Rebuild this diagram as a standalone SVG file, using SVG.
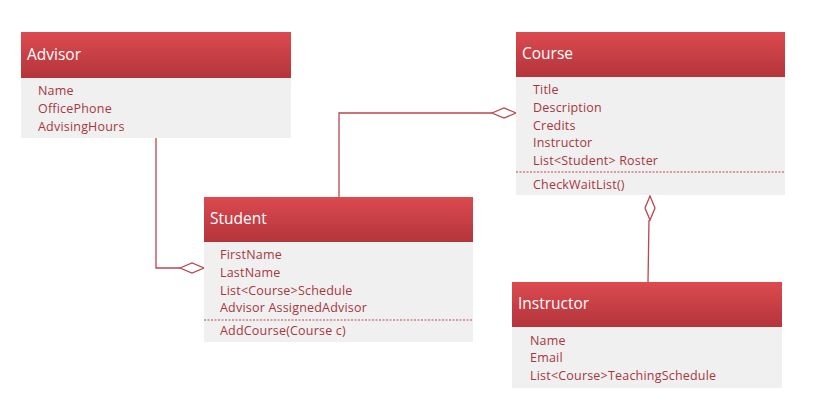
<svg xmlns="http://www.w3.org/2000/svg" width="825" height="402" viewBox="0 0 825 402">
<defs>
<linearGradient id="hdr" x1="0" y1="0" x2="0" y2="1">
<stop offset="0" stop-color="#dc4a4f"/>
<stop offset="1" stop-color="#b3353b"/>
</linearGradient>
<style>
.hd{fill:url(#hdr);}
.bd{fill:#f0f0f0;}
.ht{font-family:"Open Sans","Liberation Sans",sans-serif;font-size:15.5px;fill:#ffffff;}
.at{font-family:"Open Sans","Liberation Sans",sans-serif;font-size:12.5px;letter-spacing:0.2px;fill:#a8373d;}
.sep{stroke:#b9474d;stroke-width:1;stroke-dasharray:2,1.5;}
.ln{fill:none;stroke:#b9474d;stroke-width:1.3;}
.dm{fill:#ffffff;stroke:#b9474d;stroke-width:1.3;}
</style>
</defs>
<rect width="825" height="402" fill="#ffffff"/>
<g id="connectors">
<polyline class="ln" points="156,138 156,268 180,268"/>
<polygon class="dm" points="180,268 192,263 204,268 192,273"/>
<polyline class="ln" points="339,197 339,113 492,113"/>
<polygon class="dm" points="492,113 504,108 516,113 504,118"/>
<line class="ln" x1="649" y1="220" x2="648" y2="282"/>
<polygon class="dm" points="650,196 655,208 650,220 645,208"/>
</g>
<g id="advisor">
<rect class="bd" x="21" y="78" width="270" height="60"/>
<rect class="hd" x="21" y="32" width="270" height="46"/>
<text class="ht" x="27" y="60">Advisor</text>
<text class="at" x="38" y="95">Name</text>
<text class="at" x="38" y="113">OfficePhone</text>
<text class="at" x="38" y="131">AdvisingHours</text>
</g>
<g id="course">
<rect class="bd" x="516" y="77" width="269" height="118"/>
<rect class="hd" x="516" y="32" width="269" height="45"/>
<text class="ht" x="522" y="59">Course</text>
<text class="at" x="533" y="94">Title</text>
<text class="at" x="533" y="112">Description</text>
<text class="at" x="533" y="130">Credits</text>
<text class="at" x="533" y="147">Instructor</text>
<text class="at" x="533" y="165">List&lt;Student&gt; Roster</text>
<line class="sep" x1="516" y1="172" x2="785" y2="172"/>
<text class="at" x="533" y="189">CheckWaitList()</text>
</g>
<g id="student">
<rect class="bd" x="204" y="242" width="269" height="100"/>
<rect class="hd" x="204" y="197" width="269" height="45"/>
<text class="ht" x="210" y="224">Student</text>
<text class="at" x="220" y="259">FirstName</text>
<text class="at" x="220" y="277">LastName</text>
<text class="at" x="220" y="295">List&lt;Course&gt;Schedule</text>
<text class="at" x="220" y="312">Advisor AssignedAdvisor</text>
<line class="sep" x1="204" y1="320" x2="473" y2="320"/>
<text class="at" x="220" y="335">AddCourse(Course c)</text>
</g>
<g id="instructor">
<rect class="bd" x="512" y="327" width="270" height="61"/>
<rect class="hd" x="512" y="282" width="270" height="45"/>
<text class="ht" x="518" y="309">Instructor</text>
<text class="at" x="530" y="345">Name</text>
<text class="at" x="530" y="362">Email</text>
<text class="at" x="530" y="380">List&lt;Course&gt;TeachingSchedule</text>
</g>
</svg>
